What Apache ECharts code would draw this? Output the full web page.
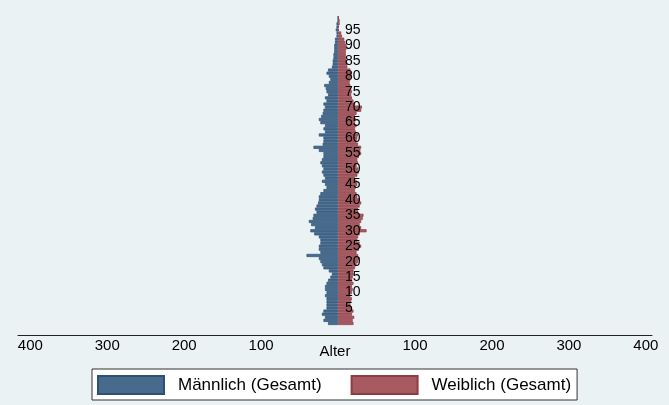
<!DOCTYPE html>
<html>
<head>
<meta charset="utf-8">
<script src="https://cdn.jsdelivr.net/npm/echarts@6/dist/echarts.min.js"></script>
<style>
html,body{margin:0;padding:0;background:#eaf2f3;}
#chart{width:669px;height:405px;}
</style>
</head>
<body>
<div id="chart"></div>
<script>
// Ages 0..99
var ages = [];
for (var a = 0; a <= 99; a++) ages.push(a);

// Männlich (Gesamt), ages 0..99
var male = [13,19,17,21,19,15,15,15,15,17,
            15,17,17,15,13,10,8,12,19,21,
            23,25,41,23,25,25,23,23,25,31,
            36,30,35,38,33,32,28,30,28,26,
            25,25,23,19,15,17,21,17,19,21,
            19,21,23,21,19,19,25,32,20,19,
            19,25,17,19,17,23,25,22,20,19,
            17,19,15,17,13,15,16,18,12,10,
            12,15,13,8,7,7,6,6,5,5,
            5,4,4,2,2,3,2,2,0,0];

// Weiblich (Gesamt), ages 0..99
var female = [20,19,21,18,20,17,16,17,18,16,
              18,19,18,20,18,19,20,20,22,24,
              26,28,26,24,27,30,28,25,26,28,
              37,30,28,30,32,33,26,26,28,30,
              28,25,24,22,23,25,24,22,25,27,
              26,24,26,25,27,30,29,30,26,24,
              25,26,23,22,24,22,23,22,24,30,
              31,22,20,18,17,18,17,16,15,16,
              17,18,16,12,12,11,10,10,10,11,
              11,9,8,5,4,1,1,2,2,1];

var xTicks = [-400,-300,-200,-100,100,200,300,400];
var seriesNames = ['Männlich (Gesamt)', 'Weiblich (Gesamt)'];

var X_MIN = -416, X_MAX = 408, GRID_L = 18, GRID_R = 17, W = 669;
// pixel offset that places the age-label axis on the zero of the value axis
var zeroOffset = -Math.round((0 - X_MIN) / (X_MAX - X_MIN) * (W - GRID_L - GRID_R));

var FONT = "'Liberation Sans', Arial, Helvetica, sans-serif";
var chart = echarts.init(document.getElementById('chart'), null, {renderer:'canvas'});
chart.setOption({
  backgroundColor: '#eaf2f3',
  animation: false,
  textStyle: {fontFamily: FONT},
  grid: {left: GRID_L, right: GRID_R, top: 16, bottom: 80, outerBoundsMode: 'none', containLabel: false},
  xAxis: {
    type: 'value',
    min: X_MIN, max: X_MAX,
    offset: 10,
    splitLine: {show: false},
    axisLine: {show: true, lineStyle: {color: '#222', width: 1}},
    axisTick: {show: false},
    axisLabel: {
      customValues: xTicks,
      formatter: function (v) { return Math.abs(v); },
      color: '#000', fontSize: 15, fontFamily: FONT, margin: 3
    },
    name: 'Alter',
    nameLocation: 'middle',
    nameGap: 9,
    nameMoveOverlap: false,
    nameTextStyle: {color: '#000', fontSize: 15, fontFamily: FONT}
  },
  yAxis: {
    type: 'category',
    data: ages,
    position: 'left',
    offset: zeroOffset,
    axisLine: {show: false, onZero: false},
    axisTick: {show: false},
    splitLine: {show: false},
    axisLabel: {
      inside: true,
      margin: 7,
      interval: function (idx, val) { return Number(val) % 5 === 0 && Number(val) > 0; },
      color: '#000', fontSize: 14, fontFamily: FONT
    },
    z: 10
  },
  legend: {
    left: 92, top: 369,
    itemWidth: 66, itemHeight: 18,
    itemGap: 29,
    padding: [6, 6, 5, 5],
    backgroundColor: '#ffffff',
    borderColor: '#333',
    borderWidth: 1,
    borderRadius: 0,
    icon: 'rect',
    textStyle: {color: '#000', fontSize: 17, fontFamily: FONT, padding: [0, 0, 0, 9]},
    data: seriesNames
  },
  series: [
    {
      name: seriesNames[0],
      type: 'bar',
      stack: 'p',
      barCategoryGap: '0%',
      data: male.map(function (v) { return -v; }),
      itemStyle: {color: '#486b8d', borderColor: '#2b5177', borderWidth: 0.7}
    },
    {
      name: seriesNames[1],
      type: 'bar',
      stack: 'p',
      barCategoryGap: '0%',
      data: female,
      itemStyle: {color: '#a85a61', borderColor: '#8e3b43', borderWidth: 0.7}
    }
  ]
});
</script>
</body>
</html>
